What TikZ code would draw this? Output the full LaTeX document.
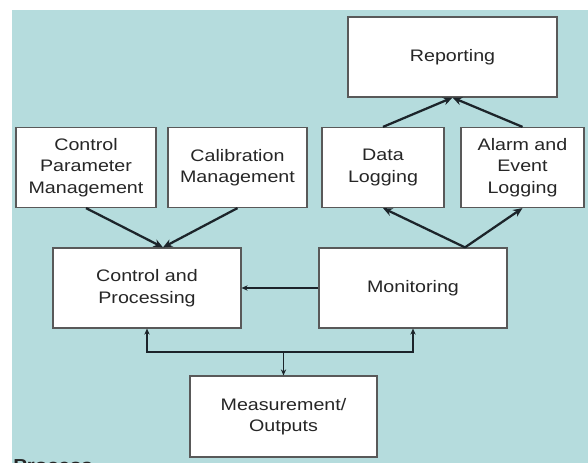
\documentclass[tikz,border=0pt]{standalone}
\usepackage{fontspec}
\setmainfont{Liberation Sans}[FakeStretch=1.18]
\usepackage{xcolor}
\usepackage{tikz}
\usetikzlibrary{arrows.meta}

\definecolor{bgblue}{RGB}{181,220,221}
\definecolor{linedark}{RGB}{28,36,42}

\tikzset{
  blockbox/.style={draw=black!65, fill=white, line width=0.9pt, minimum height=60pt,
    align=center, inner sep=2pt, font=\fontsize{12.5}{16.2}\selectfont, text=black!85},
  flow/.style={-{Stealth[length=7pt,width=6pt]}, line width=1.7pt, draw=linedark},
  bus/.style={line width=1.4pt, draw=linedark},
}

\begin{document}
\begin{tikzpicture}[x=0.75pt, y=-0.75pt, >={Stealth[length=4.5pt,width=4pt]}]
\useasboundingbox (0,0) rectangle (588,463);
\fill[bgblue] (12,10) rectangle (588,463);
% top row
\node[blockbox, minimum width=156.75pt] (rep) at (452.5,57) {Reporting};
\node[blockbox, minimum width=105pt] (cpm) at (86,167.5) {Control\\Parameter\\Management};
\node[blockbox, minimum width=104.25pt] (cal) at (237.5,167.5) {Calibration\\Management};
\node[blockbox, minimum width=91.5pt] (dlog) at (383,167.5) {Data\\Logging};
\node[blockbox, minimum width=92.25pt] (alarm) at (522.5,167.5) {Alarm and\\Event\\Logging};
% middle row
\node[blockbox, minimum width=141pt] (ctrl) at (147,288) {Control and\\Processing};
\node[blockbox, minimum width=141pt] (mon) at (413,288) {Monitoring};
% bottom
\node[blockbox, minimum width=140.25pt, minimum height=60.75pt] (meas) at (283.5,416.5) {Measurement/\\Outputs};
\node[anchor=north west, inner sep=0pt, font=\bfseries\fontsize{13}{15}\selectfont, text=black!85] (proc) at (13,459.5) {Process};
% connectors
\draw[flow] (cpm.south) -- ([xshift=12pt]ctrl.north);
\draw[flow] (cal.south) -- ([xshift=12pt]ctrl.north);
\draw[flow] ([xshift=39pt]mon.north) -- (dlog.south);
\draw[flow] ([xshift=39pt]mon.north) -- (alarm.south);
\draw[flow] (dlog.north) -- (rep.south);
\draw[flow] (alarm.north) -- (rep.south);
\draw[bus, ->] (mon.west) -- (ctrl.east);
\coordinate (busMid) at (283.5,352);
\draw[bus, <->] (ctrl.south) |- (busMid) -| (mon.south);
\draw[bus, ->] (busMid) -- (meas.north);
\end{tikzpicture}
\end{document}
